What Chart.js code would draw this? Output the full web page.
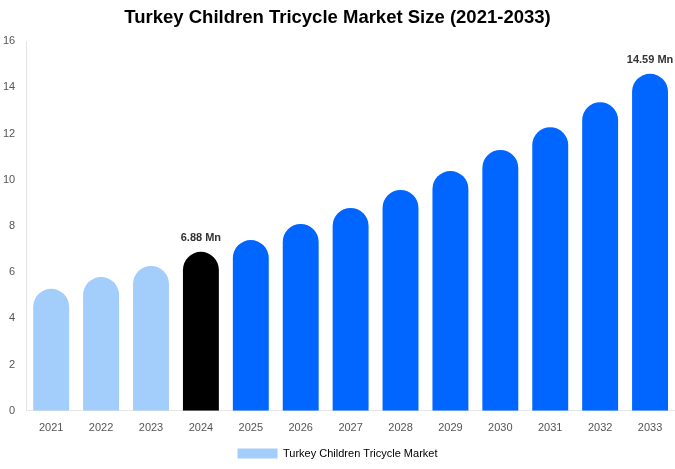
<!DOCTYPE html>
<html><head><meta charset="utf-8">
<script src="https://cdn.jsdelivr.net/npm/chart.js@4"></script>
<style>html,body{margin:0;padding:0;background:#fff}#c{width:675px;height:469px}</style>
</head><body><div id="c"><canvas id="cv" width="675" height="469"></canvas></div>
<script>
const categories=["2021","2022","2023","2024","2025","2026","2027","2028","2029","2030","2031","2032","2033"];
const values=[5.28,5.79,6.27,6.88,7.39,8.09,8.78,9.56,10.38,11.29,12.28,13.36,14.59];
const labelled={3:"6.88 Mn",12:"14.59 Mn"};
const colors=values.map((v,i)=>i<3?"#a3cdfb":(i===3?"#000000":"#0066ff"));
const labelPlugin={id:"lbl",afterDatasetsDraw(ch){const ctx=ch.ctx;const meta=ch.getDatasetMeta(0);ctx.save();ctx.font="bold 11px Arial, 'Liberation Sans'";ctx.fillStyle="#333";ctx.textAlign="center";ctx.textBaseline="bottom";for(const k in labelled){const el=meta.data[k];ctx.fillText(labelled[k],el.x,el.y-8);}ctx.restore();}};
new Chart(document.getElementById("cv"),{type:"bar",
data:{labels:categories,datasets:[{label:"Turkey Children Tricycle Market",data:values,backgroundColor:colors,borderRadius:{topLeft:18,topRight:18},borderSkipped:"bottom",barPercentage:0.72,categoryPercentage:1}]},
options:{responsive:false,animation:false,layout:{padding:{left:0,right:0,top:0,bottom:0}},
plugins:{title:{display:true,text:"Turkey Children Tricycle Market Size (2021-2033)",font:{size:18.5,weight:"bold",family:"Arial, 'Liberation Sans'"},color:"#000",padding:{top:7,bottom:12}},
legend:{position:"bottom",labels:{generateLabels:()=>[{text:"Turkey Children Tricycle Market",fillStyle:"#a3cdfb",strokeStyle:"#a3cdfb",lineWidth:0}],boxWidth:40,boxHeight:10,color:"#555",font:{size:11,family:"Arial, 'Liberation Sans'"}}},tooltip:{enabled:false}},
scales:{y:{min:0,max:16,ticks:{stepSize:2,color:"#555",font:{size:11,family:"Arial, 'Liberation Sans'"}},grid:{display:false},border:{display:true,color:"#e5e5e5"}},
x:{ticks:{color:"#555",font:{size:11,family:"Arial, 'Liberation Sans'"}},grid:{display:false},border:{display:true,color:"#e5e5e5"}}}},
plugins:[labelPlugin]});
</script></body></html>
